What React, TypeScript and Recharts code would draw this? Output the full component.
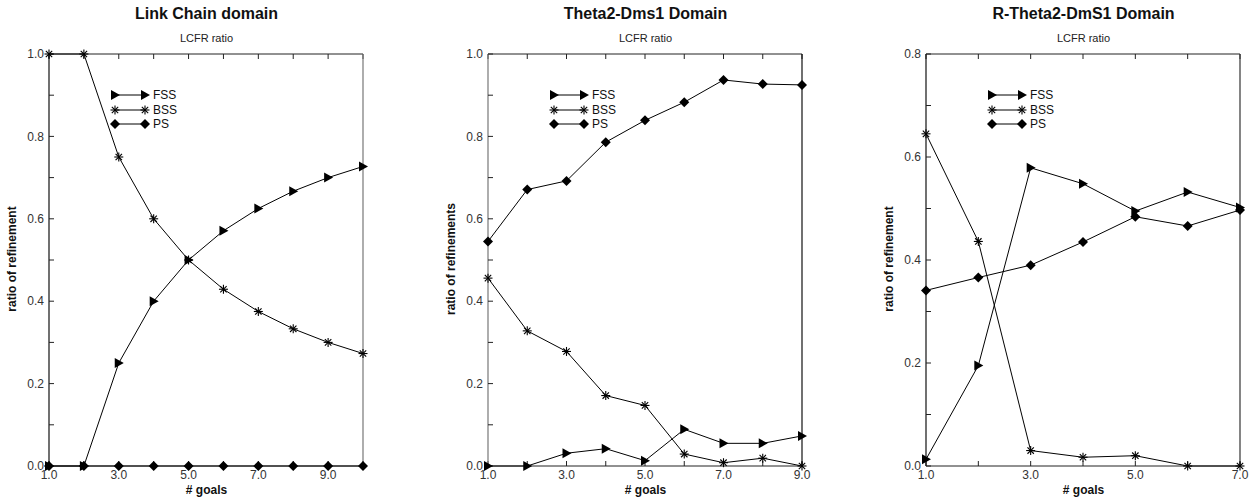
import React from 'react';
import { LineChart, Line, XAxis, YAxis } from 'recharts';

// Link Chain domain
const linkGoals = [1, 2, 3, 4, 5, 6, 7, 8, 9, 10];
const linkFss = [0, 0, 0.25, 0.4, 0.5, 0.571, 0.625, 0.667, 0.7, 0.727];
const linkBss = [1, 1, 0.75, 0.6, 0.5, 0.429, 0.375, 0.333, 0.3, 0.273];
const linkPs = [0, 0, 0, 0, 0, 0, 0, 0, 0, 0];

// Theta2-Dms1 domain
const thetaGoals = [1, 2, 3, 4, 5, 6, 7, 8, 9];
const thetaFss = [0, 0, 0.031, 0.042, 0.013, 0.089, 0.055, 0.055, 0.073];
const thetaBss = [0.456, 0.328, 0.278, 0.171, 0.147, 0.029, 0.008, 0.019, 0];
const thetaPs = [0.545, 0.671, 0.692, 0.786, 0.839, 0.883, 0.937, 0.927, 0.925];

// R-Theta2-DmS1 domain
const rthetaGoals = [1, 2, 3, 4, 5, 6, 7];
const rthetaFss = [0.013, 0.195, 0.579, 0.548, 0.495, 0.532, 0.502];
const rthetaBss = [0.645, 0.436, 0.03, 0.017, 0.02, 0, 0];
const rthetaPs = [0.341, 0.366, 0.39, 0.435, 0.484, 0.466, 0.497];

const seriesNames = ['FSS', 'BSS', 'PS'];
const FONT = '"Liberation Sans", Arial, Helvetica, sans-serif';

const Triangle = ({ cx, cy }: { cx: number; cy: number }) => (
  <path d={`M${cx - 4},${cy - 5} L${cx + 5},${cy} L${cx - 4},${cy + 5} Z`} fill="#000" />
);
const Star = ({ cx, cy }: { cx: number; cy: number }) => (
  <g stroke="#000" strokeWidth={1.1}>
    <line x1={cx - 4.5} y1={cy} x2={cx + 4.5} y2={cy} />
    <line x1={cx} y1={cy - 4.5} x2={cx} y2={cy + 4.5} />
    <line x1={cx - 3.2} y1={cy - 3.2} x2={cx + 3.2} y2={cy + 3.2} />
    <line x1={cx - 3.2} y1={cy + 3.2} x2={cx + 3.2} y2={cy - 3.2} />
  </g>
);
const Diamond = ({ cx, cy }: { cx: number; cy: number }) => (
  <path d={`M${cx},${cy - 5} L${cx + 5},${cy} L${cx},${cy + 5} L${cx - 5},${cy} Z`} fill="#000" />
);
const markers = [Triangle, Star, Diamond];

function range(from: number, to: number, step: number) {
  const out: number[] = [];
  for (let v = from; v <= to + 1e-9; v += step) out.push(Math.round(v * 10) / 10);
  return out;
}

interface PanelProps {
  title: string;
  yLabel: string;
  goals: number[];
  fss: number[];
  bss: number[];
  ps: number[];
  yMax: number;
  plotLeft: number;
  leftColor: string;
  rightColor: string;
}

const PLOT_TOP = 53;
const PLOT_BOTTOM = 466;
const PLOT_W = 315;
const AXIS_W = 45;

function Panel({ title, yLabel, goals, fss, bss, ps, yMax, plotLeft, leftColor, rightColor }: PanelProps) {
  const data = goals.map((g, i) => ({ goal: g, FSS: fss[i], BSS: bss[i], PS: ps[i] }));
  const xMax = goals[goals.length - 1];
  const xTicks = goals;
  const yTicks = range(0, yMax, 0.1);
  const xFmt = (v: number) => (v % 2 === 1 ? v.toFixed(1) : '');
  const yFmt = (v: number) => (Math.round(v * 10) % 2 === 0 ? v.toFixed(1) : '');
  const center = plotLeft + PLOT_W / 2;
  const tickStyle = { fontSize: 12, fill: '#333', fontFamily: FONT };
  const dark = { stroke: '#222', strokeWidth: 1 };
  const tickMark = { stroke: '#222', strokeWidth: 1 };

  return (
    <>
      <div style={{ position: 'absolute', left: center - 150, width: 300, top: 5, textAlign: 'center', fontFamily: FONT, fontWeight: 'bold', fontSize: 16, color: '#111' }}>
        {title}
      </div>
      <div style={{ position: 'absolute', left: center - 100, width: 200, top: 32, textAlign: 'center', fontFamily: FONT, fontSize: 11, color: '#222' }}>
        LCFR ratio
      </div>
      <div style={{ position: 'absolute', left: center - 100, width: 200, top: 483, textAlign: 'center', fontFamily: FONT, fontWeight: 'bold', fontSize: 12, color: '#111' }}>
        # goals
      </div>
      <div style={{ position: 'absolute', left: plotLeft - 37 - 100, width: 200, top: 252, textAlign: 'center', fontFamily: FONT, fontWeight: 'bold', fontSize: 12, color: '#111', transform: 'rotate(-90deg)' }}>
        {yLabel}
      </div>
      <div style={{ position: 'absolute', left: plotLeft - AXIS_W, top: 0 }}>
        <LineChart
          width={AXIS_W + PLOT_W + 15}
          height={500}
          data={data}
          margin={{ top: PLOT_TOP, right: 15, left: 0, bottom: 500 - PLOT_BOTTOM - 30 }}
        >
          <XAxis
            xAxisId="b"
            dataKey="goal"
            type="number"
            domain={[1, xMax]}
            ticks={xTicks}
            interval={0}
            tickFormatter={xFmt}
            tickSize={-5}
            tickMargin={9}
            height={30}
            axisLine={dark}
            tickLine={tickMark}
            tick={tickStyle}
          />
          <XAxis
            xAxisId="t"
            orientation="top"
            dataKey="goal"
            type="number"
            domain={[1, xMax]}
            ticks={xTicks}
            interval={0}
            tickFormatter={() => ''}
            tickSize={-5}
            height={1}
            axisLine={dark}
            tickLine={tickMark}
          />
          <YAxis
            yAxisId="l"
            type="number"
            domain={[0, yMax]}
            ticks={yTicks}
            interval={0}
            tickFormatter={yFmt}
            tickSize={-5}
            tickMargin={10}
            width={AXIS_W}
            axisLine={{ stroke: leftColor, strokeWidth: 1.2 }}
            tickLine={tickMark}
            tick={tickStyle}
          />
          <YAxis
            yAxisId="r"
            orientation="right"
            type="number"
            domain={[0, yMax]}
            ticks={yTicks}
            interval={0}
            tickFormatter={() => ''}
            tickSize={-5}
            width={1}
            axisLine={{ stroke: rightColor, strokeWidth: 1.2 }}
            tickLine={tickMark}
          />
          {seriesNames.map((name, si) => {
            const M = markers[si];
            return (
              <Line
                key={name}
                xAxisId="b"
                yAxisId="l"
                dataKey={name}
                type="linear"
                stroke="#000"
                strokeWidth={1}
                isAnimationActive={false}
                dot={(p: any) => <M key={`${name}-${p.index}`} cx={p.cx} cy={p.cy} />}
                activeDot={false}
              />
            );
          })}
        </LineChart>
      </div>
      <div style={{ position: 'absolute', left: plotLeft + 61, top: 88, fontFamily: FONT, fontSize: 12, color: '#111' }}>
        {seriesNames.map((name, si) => {
          const M = markers[si];
          return (
            <div key={name} style={{ display: 'flex', alignItems: 'center', height: 14.5 }}>
              <svg width={42} height={14}>
                <line x1={5} y1={7} x2={35} y2={7} stroke="#000" strokeWidth={1} />
                <M cx={5} cy={7} />
                <M cx={35} cy={7} />
              </svg>
              <span style={{ marginLeft: 1 }}>{name}</span>
            </div>
          );
        })}
      </div>
    </>
  );
}

export default function App() {
  return (
    <div style={{ position: 'absolute', left: 0, top: 0, width: 1253, height: 500, background: '#fff', overflow: 'hidden' }}>
      <Panel title="Link Chain domain" yLabel="ratio of refinement" goals={linkGoals} fss={linkFss} bss={linkBss} ps={linkPs} yMax={1} plotLeft={49} leftColor="#111" rightColor="#777" />
      <Panel title="Theta2-Dms1 Domain" yLabel="ratio of refinements" goals={thetaGoals} fss={thetaFss} bss={thetaBss} ps={thetaPs} yMax={1} plotLeft={488} leftColor="#777" rightColor="#111" />
      <Panel title="R-Theta2-DmS1 Domain" yLabel="ratio of refinement" goals={rthetaGoals} fss={rthetaFss} bss={rthetaBss} ps={rthetaPs} yMax={0.8} plotLeft={926} leftColor="#111" rightColor="#333" />
    </div>
  );
}
